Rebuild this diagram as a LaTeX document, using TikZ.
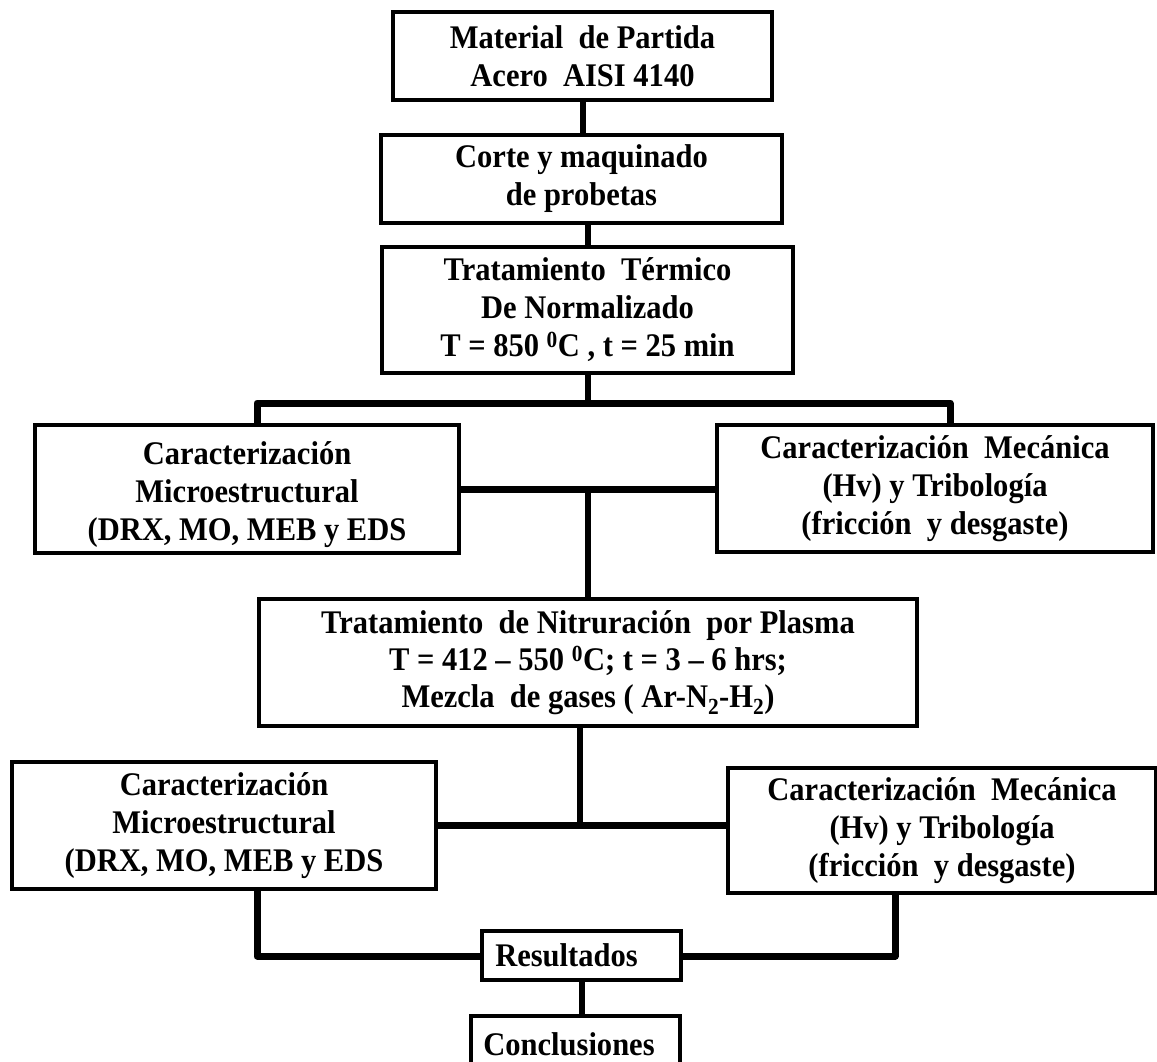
\documentclass[tikz,border=0pt]{standalone}
\usepackage{fontspec}
\setmainfont{Liberation Serif}[FakeStretch=0.925]
\begin{document}
\begin{tikzpicture}[x=1pt,y=-1pt,
  box/.style={draw, line width=4pt, inner sep=0pt, align=center,
    font=\fontsize{33}{38}\selectfont\bfseries},
  link/.style={line width=6pt},
  bar/.style={line width=7pt, line join=round}]
\fill[white] (0,0) rectangle (1157,1061);
\useasboundingbox (0,0) rectangle (1157,1061);
\clip (0,0) rectangle (1157,1061);

% process boxes
\node[box, minimum width=379pt, minimum height=88pt] (m1) at (582.5,56)
  {Material\ \ de Partida\\Acero\ \ AISI 4140};
\node[box, minimum width=401pt, minimum height=88pt] (m2) at (581.5,179)
  {Corte y maquinado\\de probetas};
\node[box, minimum width=411pt, minimum height=126pt] (m3) at (587.5,310)
  {Tratamiento\ \ Térmico\\De Normalizado\\T = 850 \textsuperscript{0}C , t = 25 min};
\node[box, minimum width=424pt, minimum height=128pt] (cm1) at (247,489)
  {\rule{0pt}{35pt}Caracterización\\Microestructural\\(DRX, MO, MEB y EDS};
\node[box, minimum width=436pt, minimum height=127pt] (mm1) at (935,488.5)
  {Caracterización\ \ Mecánica\\(Hv) y Tribología\\(fricción\ \ y desgaste)};
\node[box, font=\fontsize{33}{37}\selectfont\bfseries,
      minimum width=658pt, minimum height=127pt] (nit) at (588,662.5)
  {Tratamiento\ \ de Nitruración\ \ por Plasma\\T = 412 -- 550 \textsuperscript{0}C; t = 3 -- 6 hrs;\\Mezcla\ \ de gases ( Ar-N\textsubscript{2}-H\textsubscript{2})};
\node[box, minimum width=424pt, minimum height=127pt] (cm2) at (224,825.5)
  {Caracterización\\Microestructural\\(DRX, MO, MEB y EDS};
\node[box, minimum width=428pt, minimum height=125pt] (mm2) at (942,830.5)
  {Caracterización\ \ Mecánica\\(Hv) y Tribología\\(fricción\ \ y desgaste)};
\node[box, minimum width=199pt, minimum height=49pt] (res) at (581.5,955.5)
  {\hspace*{-30pt}Resultados};
\node[box, minimum width=209pt, minimum height=56pt] (conc) at (575.5,1044)
  {\hspace*{-13pt}Conclusiones};

% junction points of the connector bars
\coordinate (bl) at (257,403);
\coordinate (br) at (950,403);
\coordinate (j2) at (580,825);
\coordinate (ll) at (257,956);
\coordinate (rr) at (895,956);

% connectors
\draw[link] (m1.south) -- (m1.south |- m2.north);
\draw[link] (m3.north |- m2.south) -- (m3.north);
\draw[link] (m3.south) -- (m3.south |- bl);
\draw[bar] (cm1.north -| bl) -- (bl) -- (br) -- (mm1.north -| br);
\draw[bar] (cm1.east) -- (cm1.east -| mm1.west);
\draw[link] (nit.north |- cm1.east) -- (nit.north);
\draw[link] (nit.south -| j2) -- (j2);
\draw[bar] (cm2.east |- j2) -- (j2 -| mm2.west);
\draw[bar] (cm2.south -| ll) -- (ll) -- (ll -| res.west);
\draw[bar] (mm2.south -| rr) -- (rr) -- (rr -| res.east);
\draw[link] (res.south) -- (res.south |- conc.north);
\end{tikzpicture}
\end{document}
